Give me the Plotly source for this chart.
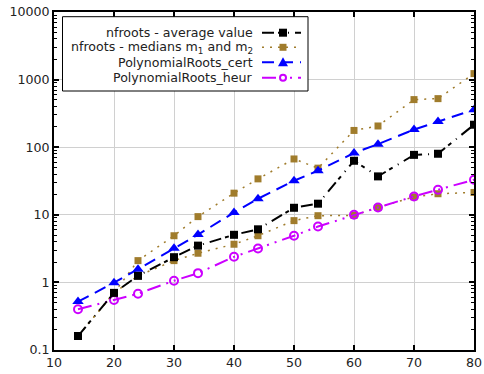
import plotly.graph_objects as go

n = [14, 20, 24, 30, 34, 40, 44, 50, 54, 60, 64, 70, 74, 80]
avg = [0.161, 0.70, 1.25, 2.36, 3.5, 5.06, 6.1, 12.7, 14.6, 63, 37, 77, 80, 215]
med_m1 = [0.161, 0.70, 2.1, 4.9, 9.4, 20.9, 34, 67, 49, 177, 206, 506, 523, 1227]
med_m2 = [0.161, 0.70, 1.25, 2.1, 2.7, 3.67, 4.9, 8.2, 9.7, 9.8, 12.8, 18.4, 20.5, 21.4]
cert = [0.52, 0.99, 1.57, 3.2, 5.1, 10.8, 17.3, 31.9, 45, 82, 111, 182, 241, 359]
heur = [0.40, 0.55, 0.68, 1.06, 1.37, 2.39, 3.17, 4.9, 6.7, 10, 12.8, 18.7, 23.5, 33]

names = ["nfroots - average value", "nfroots - medians m<sub>1</sub> and m<sub>2</sub>",
         "PolynomialRoots_cert", "PolynomialRoots_heur"]
xticks = [10, 20, 30, 40, 50, 60, 70, 80]
yticks = [0.1, 1, 10, 100, 1000, 10000]
yticklabels = ["0.1", "1", "10", "100", "1000", "10000"]

BLACK = "#000000"
GOLD = "#a07c2c"
BLUE = "#0000ff"
MAG = "#cc00ff"
FONT = "DejaVu Sans"

dash_black = "12px,4px,4px,6px,1px,6px"
dash_gold = "2px,6px"
dash_blue = "12px,7px"
dash_mag = "14px,6px,2px,6px,2px,6px"

fig = go.Figure()
fig.add_trace(go.Scatter(x=n, y=med_m1, mode="lines+markers", showlegend=False,
                         line=dict(color=GOLD, width=1.5, dash=dash_gold),
                         marker=dict(symbol="square", size=7, color=GOLD)))
fig.add_trace(go.Scatter(x=n, y=med_m2, mode="lines+markers", showlegend=False,
                         line=dict(color=GOLD, width=1.5, dash=dash_gold),
                         marker=dict(symbol="square", size=7, color=GOLD)))
fig.add_trace(go.Scatter(x=n, y=cert, mode="lines+markers", showlegend=False,
                         line=dict(color=BLUE, width=2, dash=dash_blue),
                         marker=dict(symbol="triangle-up", size=10, color=BLUE)))
fig.add_trace(go.Scatter(x=n, y=heur, mode="lines+markers", showlegend=False,
                         line=dict(color=MAG, width=2, dash=dash_mag),
                         marker=dict(symbol="circle-open", size=8, color=MAG, line=dict(width=2, color=MAG))))
fig.add_trace(go.Scatter(x=n, y=avg, mode="lines+markers", showlegend=False,
                         line=dict(color=BLACK, width=2, dash=dash_black),
                         marker=dict(symbol="square", size=8, color=BLACK)))

# custom legend (text left, sample right) in pixel-based paper coords
L, R, T, B = 54, 474, 12, 350
def px(x):
    return (x - L) / (R - L)
def py(y):
    return (B - y) / (B - T)

shapes = [dict(type="rect", xref="paper", yref="paper", x0=px(62.5), x1=px(308), y0=py(16.7), y1=py(91),
               line=dict(color="black", width=1), fillcolor="white", layer="above")]
annotations = []
rows = [32.7, 47.3, 62.3, 77.7]
styles = [(BLACK, dash_black, 2, "square"), (GOLD, dash_gold, 1.5, "square"),
          (BLUE, dash_blue, 2, "triangle"), (MAG, dash_mag, 2, "circle")]
for yy, nm, (col, dsh, w, mk) in zip(rows, names, styles):
    annotations.append(dict(xref="paper", yref="paper", x=px(255), y=py(yy), text=nm, showarrow=False,
                            xanchor="right", yanchor="middle", font=dict(family=FONT, size=12.6, color="#222")))
    shapes.append(dict(type="line", xref="paper", yref="paper", x0=px(262), x1=px(301), y0=py(yy), y1=py(yy),
                       line=dict(color=col, width=w, dash=dsh), layer="above"))
    cx = 283
    if mk == "square":
        s = 4 if col == BLACK else 3.5
        shapes.append(dict(type="rect", xref="paper", yref="paper", x0=px(cx - s), x1=px(cx + s),
                           y0=py(yy + s), y1=py(yy - s), line=dict(width=0), fillcolor=col, layer="above"))
    elif mk == "triangle":
        path = f"M {px(cx-5)} {py(yy+4)} L {px(cx+5)} {py(yy+4)} L {px(cx)} {py(yy-5)} Z"
        shapes.append(dict(type="path", xref="paper", yref="paper", path=path, line=dict(width=0),
                           fillcolor=col, layer="above"))
    else:
        shapes.append(dict(type="circle", xref="paper", yref="paper", x0=px(cx - 3), x1=px(cx + 3),
                           y0=py(yy + 3), y1=py(yy - 3), line=dict(color=col, width=2), fillcolor="white",
                           layer="above"))

fig.update_layout(
    width=484, height=374,
    margin=dict(l=L, r=484 - R, t=T, b=374 - B),
    paper_bgcolor="white", plot_bgcolor="white",
    font=dict(family=FONT, size=12.6, color="#222"),
    shapes=shapes, annotations=annotations,
    xaxis=dict(range=[10, 80], tickvals=xticks, showgrid=True, gridcolor="#d0d0d0", gridwidth=1,
               showline=True, linecolor="black", linewidth=2, mirror="allticks", automargin=False,
               ticks="inside", ticklen=5, tickwidth=1.5, tickcolor="black", zeroline=False),
    yaxis=dict(type="log", range=[-1, 4], tickvals=yticks, ticktext=yticklabels, showgrid=True,
               gridcolor="#d0d0d0", gridwidth=1, showline=True, linecolor="black", linewidth=2,
               mirror="allticks", ticks="inside", ticklen=5, tickwidth=1.5, tickcolor="black",
               automargin=False,
               minor=dict(ticks="inside", ticklen=3, tickwidth=1, tickcolor="black", showgrid=False, dtick="D1")),
)
fig.write_html("out.html")
